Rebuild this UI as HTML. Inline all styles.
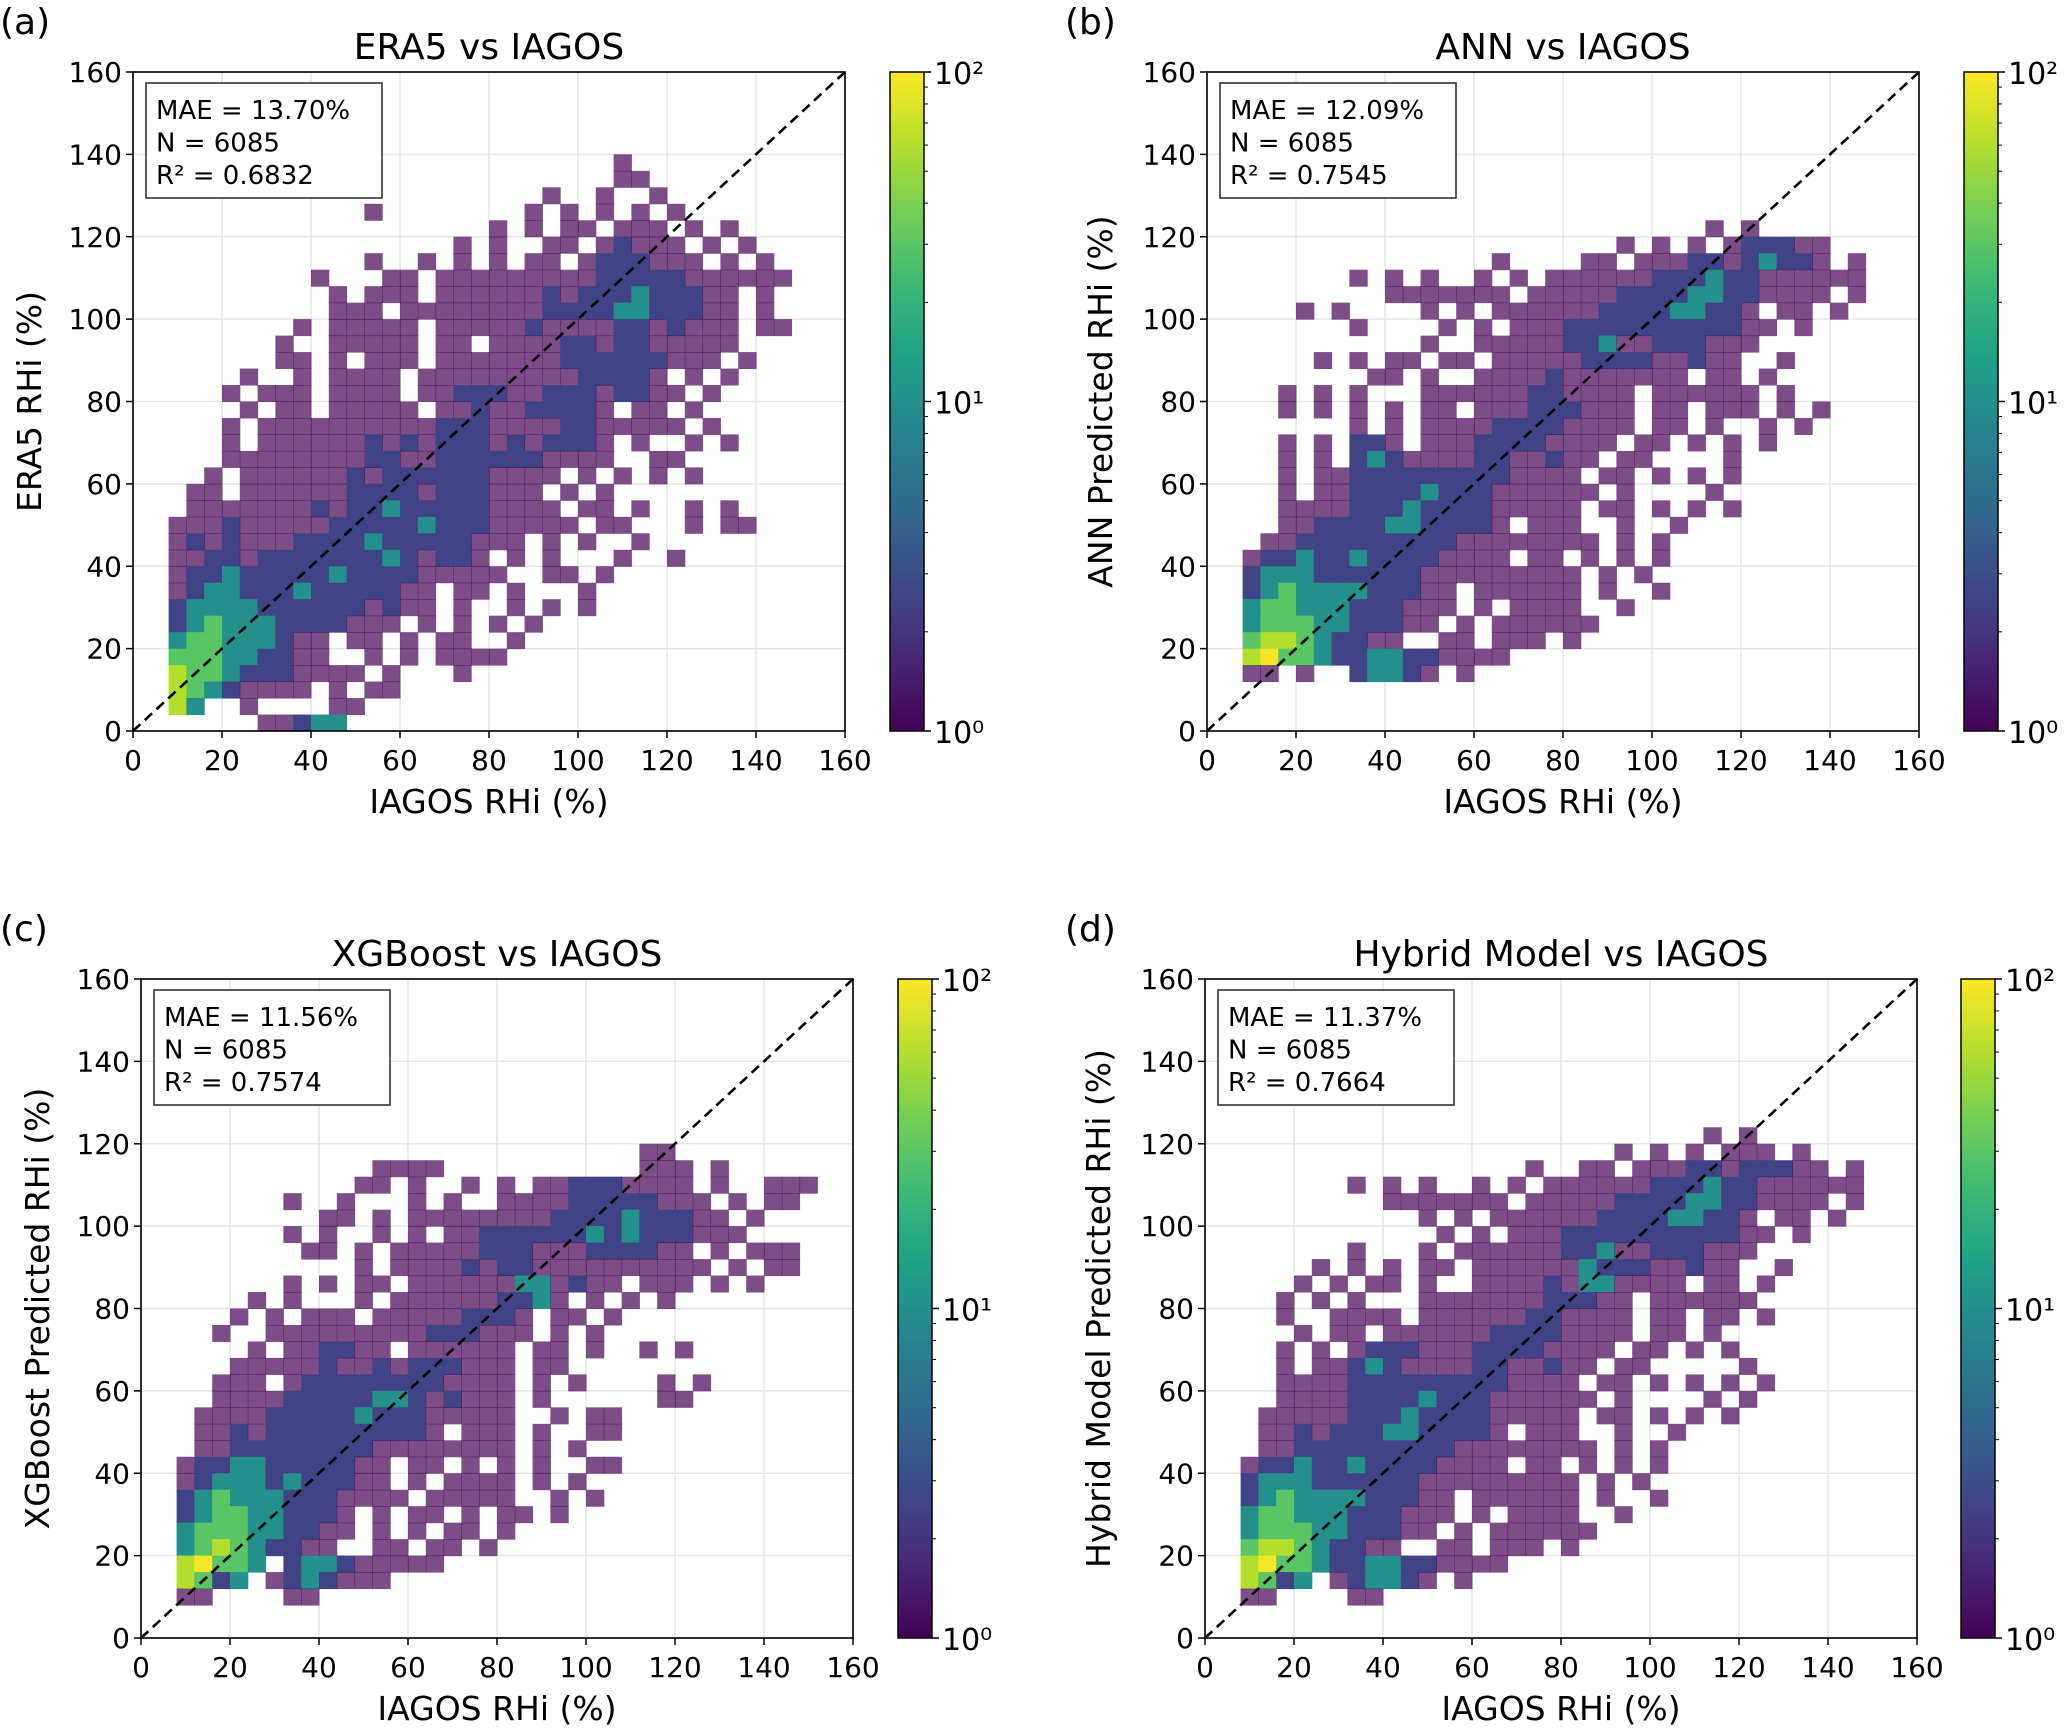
<!DOCTYPE html>
<html><head><meta charset="utf-8"><style>
html,body{margin:0;padding:0;background:#fff}
svg{display:block;font-family:"DejaVu Sans","Liberation Sans",sans-serif}
</style></head><body>
<svg id="fig" width="2067" height="1728" viewBox="0 0 2067 1728" xmlns="http://www.w3.org/2000/svg"></svg>
<script>
// Data: rows of 2D histogram, bins of 4 units. First token = bin bottom y; following chars = level per x-bin (0..160).
// Levels: '.' empty, 1..6 increasing count (log scale).
const levelCounts = [1, 2.5, 10, 30, 60, 95];
const tickValues = [0, 20, 40, 60, 80, 100, 120, 140, 160];
const cbTickLabels = ["10⁰", "10¹", "10²"];
const panelTitles = ["ERA5 vs IAGOS", "ANN vs IAGOS", "XGBoost vs IAGOS", "Hybrid Model vs IAGOS"];
const panelYLabels = ["ERA5 RHi (%)", "ANN Predicted RHi (%)", "XGBoost Predicted RHi (%)", "Hybrid Model Predicted RHi (%)"];
const panelLetters = ["(a)", "(b)", "(c)", "(d)"];
const statsMAE = ["13.70%", "12.09%", "11.56%", "11.37%"];
const statsN = ["6085", "6085", "6085", "6085"];
const statsR2 = ["0.6832", "0.7545", "0.7574", "0.7664"];

const rowsA = [
"136 .......... .......... .......1.. ..........",
"132 .......... .......... .......11. ..........",
"128 .......... .......... ...1..1..1 ..........",
"124 .......... ...1...... ..1.1.1.1. 1.........",
"120 .......... .......... 1.1.11.111 .1.1......",
"116 .......... ........1. 1..11.1211 1.1.1.....",
"112 .......... ...1..1.1. 1.11.12221 11.1.1....",
"108 .......... 1...11.111 1111112222 2111111...",
"104 .......... .1.111.111 1112122232 2211.1....",
"100 .......... .111.11111 1112222332 2211.1....",
"96 .........1 .11111.111 1121111221 2111.11...",
"92 ........1. .11111.11. 1111221221 1111......",
"88 ........11 .1.111.111 1111222222 111.1.....",
"84 ......1..1 .1111.1111 1111122221 .1.1......",
"80 .....1.111 .1111.1122 2112221221 1.1.......",
"76 ......1.11 .11111.112 1122221.11 .1........",
"72 .....1.111 1111111222 1111221111 1.1.......",
"68 .....1.111 1112121222 1212221.1. .1.1......",
"64 .....11111 1112211222 2221111..1 1.........",
"60 ....1.1111 1121222222 1111.1.1.1 .1........",
"56 ...11.1111 1122221222 111.1.1... ..........",
"52 ...1111111 2122322222 1111.11.1. .1.1......",
"48 ..11121111 1222223222 11111.11.. .1.11.....",
"44 ..12121112 2223222221 11.1.1..1. ..........",
"40 ..11221222 2222321221 .1.1...1.. 1.........",
"36 ..12232222 2322221111 1..11.1... ..........",
"32 ..12332223 2222211.11 .1...1.... ..........",
"28 ..23333222 2221211.1. .1.1.1.... ..........",
"24 ..23433322 22111.1.1. 1.1....... ..........",
"20 ..34433321 1.11.1.11. .1........ ..........",
"16 ..44433221 1..1.1.111 1......... ..........",
"12 ..54432221 111.1...1. .......... ..........",
"8 ..54321111 .1.11..... .......... ..........",
"4 ..53..1... .11....... .......... ..........",
"0 .......112 33........ .......... .........."
];
const rowsB = [
"120 .......... .......... ........1. 1.........",
"116 .......... .......... ...1.1.1.1 22211.....",
"112 .......... ......1... .11.111221 23221.1...",
"108 ........1. 1.1..1.1.1 1111122232 2111111...",
"104 .......... 1111111.11 1112222332 21111.1...",
"100 .....1.1.. ..1.1.1111 1122223322 1.11.1....",
"96 ........1. ...1.1.111 2222222222 11.1......",
"92 .......... ..1..11111 2231122211 1.........",
"88 ......1.1. 11.11.1111 1222211211 ..1.......",
"84 .........1 1.1..11112 1111111.11 .1........",
"80 ....1.1.1. ..11111122 1111.11111 1.1.......",
"76 ....1.1.1. 1.11.11122 2111.11.11 1.1.1.....",
"72 ........1. 1.11112222 1111.11.1. .1.1......",
"68 ....1.1.22 1.11122221 111.11.1.1 .1........",
"64 ....1.1.23 2111122112 11.11....1 ..........",
"60 ....1.1122 2222222111 1.11.1.1.1 ..........",
"56 ....1.1122 2232221111 11.1....1. ..........",
"52 ....111122 2322221111 1.11.1.1.1 ..........",
"48 ....112222 3322221.11 1..1..1... ..........",
"44 ...1122222 2222111111 11.1.1.... ..........",
"40 ..12232232 2221111.11 .1.1.1.... ..........",
"36 ..23332222 2211111111 1.1.1..... ..........",
"32 ..23433332 2211.11111 1.1..1.... ..........",
"28 ..34433322 2111.1.111 1..1...... ..........",
"24 ..34443322 211.1.1111 11........ ..........",
"20 ..45543221 1..11.111. 1......... ..........",
"16 ..56443223 3221111... .......... ..........",
"12 ..11.1..23 321.1..... .......... .........."
];
const rowsC = [
"116 .......... .......... ........11 ..........",
"112 .......... ...1111... ........11 1.1.......",
"108 .......... ..11.1..1. 1.11222111 1.1..111..",
"104 ........1. .1...1.1.. 1111222221 11.1.11...",
"100 .......... 11.1.11111 1112222322 211.1.....",
"96 ........1. 1..1.1.112 2222232322 2111......",
"92 .........1 1.1.111112 2211122221 1.1.111...",
"88 .......... ..1.111121 2211111111 11.1.11...",
"84 ........1. 1.11.11111 1331211.11 1.1.1.....",
"80 ......1.1. ..1.111111 2231.1.1.1 ..........",
"76 .....1.1.1 11.1111122 21.11.1... ..........",
"72 ....1..111 1111112221 11.1.1.... ..........",
"68 ......1.11 2211.11111 1.11.1..1. 1.........",
"64 .....11111 2112122211 1.11...... ..........",
"60 ....111.12 2222222111 1.1.1....1 .1........",
"56 ....111122 2223321211 1.1......1 1.........",
"52 ...1111222 2232221111 1..1.11... ..........",
"48 ...1121222 2222221.11 1.1..11... ..........",
"44 ...1122222 2221111111 1.1.1..... ..........",
"40 ..12233222 2211.11.1. 1.1..11... ..........",
"36 ..12333232 2211.1.111 1.1.1..... ..........",
"32 ..23433322 21111.1111 1..1.1.... ..........",
"28 ..23443322 21.1.11.1. 11.1...... ..........",
"24 ..34443322 11.1.1.11. 1......... ..........",
"20 ..34543221 1..11.11.1 .......... ..........",
"16 ..56443.23 3211111... .......... ..........",
"12 ..5423.123 2111...... .......... ..........",
"8 ..11....11 .......... .......... .........."
];
const rowsD = [
"120 .......... .......... ........1. 1.........",
"116 .......... .......... ...1.1.1.1 11.1......",
"112 .......... ........1. .11.111221 22211.1...",
"108 ........1. 1.1..1.1.1 1111122232 2111111...",
"104 .......... 1111111.11 1112222332 21111.1...",
"100 .......... ..1.1.1111 1122223322 1.11.1....",
"96 .......... ...1.1.111 2222222222 11.1......",
"92 ........1. ..1.111111 2231122211 1.........",
"88 ......1.1. 1.11.11111 1322211211 ..1.......",
"84 .....1.1.1 1.1..11112 1331111.11 .1........",
"80 ....1.1.1. ..11111112 2211.11111 1.........",
"76 ....1..111 1.11111122 1111.11.11 .1........",
"72 .....1.11. 1111112222 1111.11.1. ..........",
"68 ....1.1.12 2211122221 111.11.1.1 ..........",
"64 ....1.1123 2111122112 11.11..... 1.........",
"60 ....111122 2222222111 1.11.1.1.1 .1........",
"56 ....111122 2232221111 11.1....1. 1.........",
"52 ...1111122 2322221111 1.11.1.1.1 ..........",
"48 ...1121222 3322221.11 1..1..1... ..........",
"44 ...1122222 2222111111 11.1.1.... ..........",
"40 ..12232232 2221111.11 .1.1.1.... ..........",
"36 ..23332222 2211111111 1.1.1..... ..........",
"32 ..23433332 2211.11111 1.1..1.... ..........",
"28 ..34433322 2111.1.111 1..1...... ..........",
"24 ..34443322 211.1.1111 11........ ..........",
"20 ..45543221 1..11.111. 1......... ..........",
"16 ..56443223 3221111... .......... ..........",
"12 ..5423.123 321.1..... .......... ..........",
"8 ..11....11 .......... .......... .........."
];

const NS = "http://www.w3.org/2000/svg";
const svg = document.getElementById("fig");
function mk(tag, attrs, parent) {
  const e = document.createElementNS(NS, tag);
  for (const k in attrs) e.setAttribute(k, attrs[k]);
  (parent || svg).appendChild(e);
  return e;
}
const VIR = [[68,1,84],[72,40,120],[62,74,137],[49,104,142],[38,130,142],[31,158,137],[53,183,121],[109,205,89],[180,222,44],[253,231,37]];
function viridis(t) {
  t = Math.max(0, Math.min(1, t));
  const p = t * (VIR.length - 1), i = Math.floor(p), f = p - i;
  const a = VIR[i], b = VIR[Math.min(i + 1, VIR.length - 1)];
  return "rgb(" + a.map((v, k) => Math.round(v + (b[k] - v) * f)).join(",") + ")";
}

const panels = [
  {ax:133, ay:72, w:712, h:659, cbx:890, ylx:29, lx:0, rows:rowsA},
  {ax:1207, ay:72, w:712, h:659, cbx:1964, ylx:1100, lx:1065, rows:rowsB},
  {ax:141, ay:979, w:712, h:659, cbx:898, ylx:37, lx:0, rows:rowsC},
  {ax:1205, ay:979, w:712, h:659, cbx:1961, ylx:1098, lx:1065, rows:rowsD}
];

panels.forEach((P, pi) => {
  const g = mk("g", {});
  
  
  const xs = v => P.ax + v / 160 * P.w;
  const ys = v => P.ay + P.h - v / 160 * P.h;

  tickValues.forEach(v => {
    const gx = mk("line", {x1:xs(v), x2:xs(v), y1:P.ay, y2:P.ay+P.h, stroke:"#e5e5e5", "stroke-width":1.5}, g);
    
    
    const gy = mk("line", {x1:P.ax, x2:P.ax+P.w, y1:ys(v), y2:ys(v), stroke:"#e5e5e5", "stroke-width":1.5}, g);
    
    
  });

  P.rows.forEach(r => {
    const parts = r.split(" ");
    const y0 = +parts[0];
    const cells = parts.slice(1).join("");
    for (let i = 0; i < cells.length; i++) {
      const c = cells[i];
      if (c === ".") continue;
      const cnt = levelCounts[+c - 1];
      const x0 = i * 4;
      const rc = mk("rect", {x:xs(x0), y:ys(y0+4), width:xs(x0+4)-xs(x0)+0.5, height:ys(y0)-ys(y0+4)+0.5, fill:viridis(Math.log10(cnt)/2), "fill-opacity": c === "1" ? 0.7 : 1}, g);
      
      
    }
  });

  const d = mk("line", {x1:xs(0), y1:ys(0), x2:xs(160), y2:ys(160), stroke:"#000", "stroke-width":2.6, "stroke-dasharray":"10,6"}, g);
  
  

  const fr = mk("rect", {x:P.ax, y:P.ay, width:P.w, height:P.h, fill:"none", stroke:"#000", "stroke-width":1.6}, g);
  
  

  tickValues.forEach(v => {
    mk("line", {x1:xs(v), x2:xs(v), y1:P.ay+P.h, y2:P.ay+P.h+7, stroke:"#000", "stroke-width":1.5}, g);
    mk("line", {x1:P.ax-7, x2:P.ax, y1:ys(v), y2:ys(v), stroke:"#000", "stroke-width":1.5}, g);
    const tx = mk("text", {x:xs(v), y:P.ay+P.h+39, "font-size":28, "text-anchor":"middle"}, g);
    tx.textContent = v;
    
    
    const ty = mk("text", {x:P.ax-11, y:ys(v)+10, "font-size":28, "text-anchor":"end"}, g);
    ty.textContent = v;
    
    
  });

  const xl = mk("text", {x:P.ax+P.w/2, y:P.ay+P.h+82, "font-size":33, "text-anchor":"middle"}, g);
  xl.textContent = "IAGOS RHi (%)";
  
  
  const yl = mk("text", {x:P.ylx+12, y:P.ay+P.h/2, "font-size":33, "text-anchor":"middle", transform:"rotate(-90 "+(P.ylx+12)+" "+(P.ay+P.h/2)+")"}, g);
  yl.textContent = panelYLabels[pi];
  
  
  const tt = mk("text", {x:P.ax+P.w/2, y:P.ay-13, "font-size":36, "text-anchor":"middle"}, g);
  tt.textContent = panelTitles[pi];
  
  
  const pl = mk("text", {x:P.lx, y:P.ay-38, "font-size":36}, g);
  pl.textContent = panelLetters[pi];
  
  

  const bx = P.ax + 13, by = P.ay + 11;
  const sb = mk("rect", {x:bx, y:by, width:236, height:115, fill:"#fff", stroke:"#333", "stroke-width":1.6}, g);
  
  
  ["MAE = " + statsMAE[pi], "N = " + statsN[pi], "R² = " + statsR2[pi]].forEach((s, k) => {
    const st = mk("text", {x:bx+10, y:by+36+k*32.5, "font-size":26}, g);
    st.textContent = s;
    
    
  });

  const cw = 34;
  const defs = mk("defs", {}, g);
  const lg = mk("linearGradient", {id:"vg"+pi, x1:0, y1:1, x2:0, y2:0}, defs);
  for (let k = 0; k <= 20; k++) mk("stop", {offset:(k/20), "stop-color":viridis(k/20)}, lg);
  const cb = mk("rect", {x:P.cbx, y:P.ay, width:cw, height:P.h, fill:"url(#vg"+pi+")", stroke:"#000", "stroke-width":1.5}, g);
  
  
  const cy = dec => P.ay + P.h - dec / 2 * P.h;
  cbTickLabels.forEach((lab, k) => {
    mk("line", {x1:P.cbx+cw, x2:P.cbx+cw+7, y1:cy(k), y2:cy(k), stroke:"#000", "stroke-width":1.5}, g);
    const ct = mk("text", {x:P.cbx+cw+10, y:cy(k)+12, "font-size":30}, g);
    ct.textContent = lab;
    
    
  });
  for (let dec = 0; dec < 2; dec++) for (let m = 2; m <= 9; m++) {
    const yy = cy(dec + Math.log10(m));
    mk("line", {x1:P.cbx+cw, x2:P.cbx+cw+4, y1:yy, y2:yy, stroke:"#000", "stroke-width":1}, g);
  }
});
</script>
</body></html>
